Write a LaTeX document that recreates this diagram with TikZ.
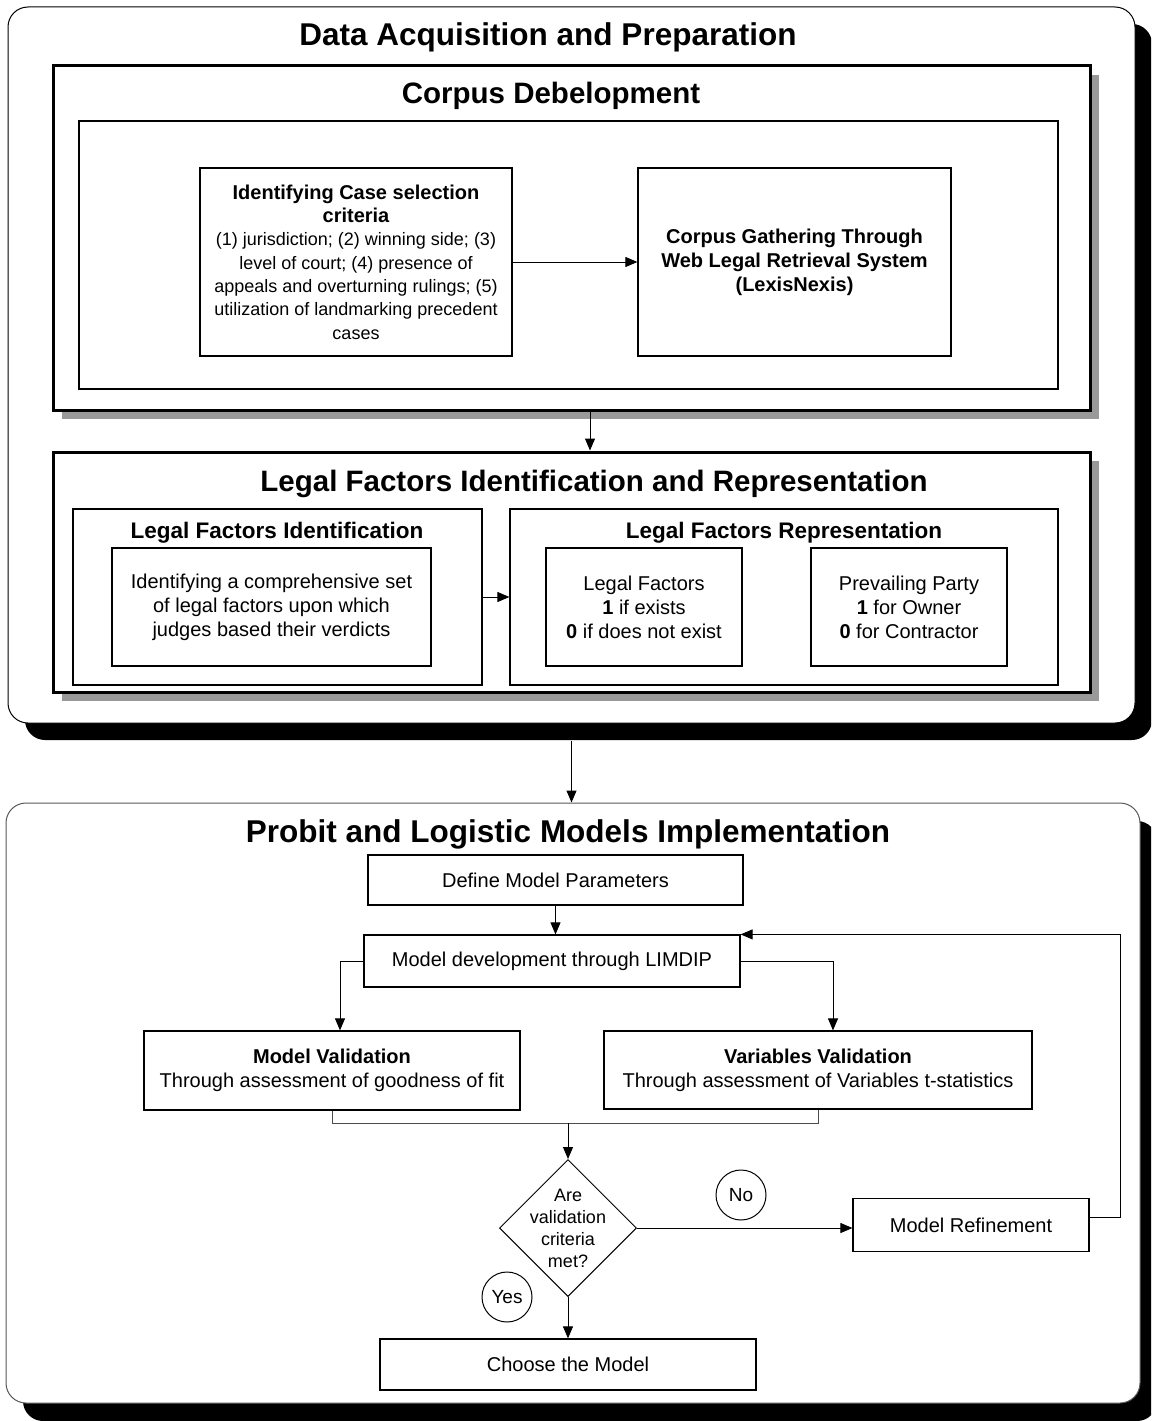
\documentclass[tikz,border=0pt]{standalone}
\usepackage{fontspec}
\setmainfont{Liberation Sans}
\usetikzlibrary{arrows.meta,shapes.geometric}
\begin{document}
\begin{tikzpicture}[x=1pt,y=-1pt,
  outerbox/.style={draw, fill=white, rounded corners=20pt, line width=1pt, inner sep=0pt},
  blackshadow/.style={fill=black, rounded corners=20pt, inner sep=0pt},
  grayshadow/.style={fill=black!40, inner sep=0pt},
  thickbox/.style={draw, fill=white, line width=3pt, inner sep=0pt},
  box/.style={draw, fill=white, line width=1.2pt, inner sep=0pt, align=center},
  bigtitle/.style={anchor=base, font=\fontsize{31.5}{36}\selectfont\bfseries},
  midtitle/.style={anchor=base, font=\fontsize{29.5}{34}\selectfont\bfseries},
  smalltitle/.style={anchor=base, font=\fontsize{22.5}{26}\selectfont\bfseries},
  txt/.style={font=\fontsize{20}{24}\selectfont},
  arr/.style={-{Triangle[length=12pt,width=10pt]}, line width=1pt},
  conn/.style={line width=1pt},
  circ/.style={circle, draw, line width=1pt, minimum size=50pt, inner sep=0pt, font=\fontsize{19}{22}\selectfont}
]
\useasboundingbox (0,0) rectangle (1151,1421);
\clip (0,0) rectangle (1151,1421);

% ---------- Top container ----------
\node[blackshadow, minimum width=1127pt, minimum height=716pt] (topsh) at (588.5,382) {};
\node[outerbox, minimum width=1127pt, minimum height=716pt] (top) at (571.5,365) {};
\node[bigtitle] (toptitle) at (548,46) {Data Acquisition and Preparation};

% Corpus development
\node[grayshadow, minimum width=1037pt, minimum height=344pt] (corpussh) at (580.5,247) {};
\node[thickbox, minimum width=1037pt, minimum height=344pt] (corpus) at (571.5,238) {};
\node[midtitle] (corpustitle) at (551,103.5) {Corpus Debelopment};
\node[box, minimum width=979pt, minimum height=268pt] (corpusin) at (568.5,255) {};
\node[box, minimum width=312pt, minimum height=188pt, font=\fontsize{18}{23.3}\selectfont] (idc) at (356,262)
  {{\fontsize{20}{23.3}\selectfont\bfseries Identifying Case selection}\\
   {\fontsize{20}{23.3}\selectfont\bfseries criteria}\\
   (1) jurisdiction; (2) winning side; (3)\\
   level of court; (4) presence of\\
   appeals and overturning rulings; (5)\\
   utilization of landmarking precedent\\
   cases};
\node[box, minimum width=313pt, minimum height=188pt, font=\fontsize{20}{24}\selectfont\bfseries] (cg) at (794.5,262)
  {Corpus Gathering Through\\Web Legal Retrieval System\\(LexisNexis)};
\draw[arr] (idc) -- (cg);

% Legal factors
\node[grayshadow, minimum width=1037pt, minimum height=240pt] (legalsh) at (580.5,581) {};
\node[thickbox, minimum width=1037pt, minimum height=240pt] (legal) at (571.5,572) {};
\node[midtitle] (legaltitle) at (594,491.5) {Legal Factors Identification and Representation};
\draw[arr] ([xshift=18.5pt]corpus.south) -- ([xshift=18.5pt]legal.north);

\node[box, minimum width=409pt, minimum height=176pt] (lfi) at (277.5,597) {};
\node[smalltitle] (lfititle) at (277,538) {Legal Factors Identification};
\node[box, txt, minimum width=319pt, minimum height=118pt] (lfiin) at (271.5,607)
  {Identifying a comprehensive set\\of legal factors upon which\\judges based their verdicts};

\node[box, minimum width=548pt, minimum height=176pt] (lfr) at (784,597) {};
\node[smalltitle] (lfrtitle) at (784,538) {Legal Factors Representation};
\node[box, txt, minimum width=196pt, minimum height=118pt] (lf) at (644,607)
  {Legal Factors\\\textbf{1} if exists\\\textbf{0} if does not exist};
\node[box, txt, minimum width=196pt, minimum height=118pt] (pp) at (909,607)
  {Prevailing Party\\\textbf{1} for Owner\\\textbf{0} for Contractor};
\draw[arr] (lfi) -- (lfr);

% ---------- Bottom container ----------
\node[blackshadow, minimum width=1134pt, minimum height=600pt] (botsh) at (590,1121) {};
\node[outerbox, draw=black!65, minimum width=1134pt, minimum height=600pt] (bot) at (573,1103) {};
\node[bigtitle] (bottitle) at (568,842) {Probit and Logistic Models Implementation};
\draw[arr] ([yshift=-17pt]top.south) -- (top.south |- bot.north);

\node[box, txt, minimum width=375pt, minimum height=50pt] (def) at (555.5,880) {Define Model Parameters};
\node[box, txt, minimum width=376pt, minimum height=52pt] (lim) at (552,961) {Model development through LIMDIP};
\node[box, txt, minimum width=376pt, minimum height=79pt] (mv) at (332,1070.5)
  {\textbf{Model Validation}\\Through assessment of goodness of fit};
\node[box, txt, minimum width=428pt, minimum height=78pt] (vv) at (818,1070)
  {\textbf{Variables Validation}\\Through assessment of Variables t-statistics};
\node[diamond, draw, line width=1pt, fill=white, minimum width=137pt, minimum height=137pt, inner sep=0pt] (dia) at (568,1228) {};
\node[align=center, font=\fontsize{18}{22}\selectfont] (diatext) at (dia) {Are\\validation\\criteria\\met?};
\node[box, txt, minimum width=236pt, minimum height=53pt] (mr) at (971,1225) {Model Refinement};
\node[box, txt, minimum width=376pt, minimum height=51pt] (ch) at (568,1364.5) {Choose the Model};
\node[circ] (no) at (741,1195) {No};
\node[circ] (yes) at (507,1297) {Yes};

\coordinate (mj) at (568,1123);
\coordinate (fb) at (1120,1217);
\draw[arr] (def) -- (def.south |- lim.north);
\draw[arr] (lim.west) -| ([xshift=8pt]mv.north);
\draw[arr] (lim.east) -| ([xshift=15pt]vv.north);
\draw[conn, draw=black!70] (mv.south) |- (mj) -| (vv.south);
\draw[arr] (mj) -- (dia.north);
\draw[arr] (dia.east) -- (dia.east -| mr.west);
\draw[arr] (dia.south) -- (dia.south |- ch.north);
\draw[arr] (mr.east |- fb) -- (fb) |- (lim.north east);
\end{tikzpicture}
\end{document}
